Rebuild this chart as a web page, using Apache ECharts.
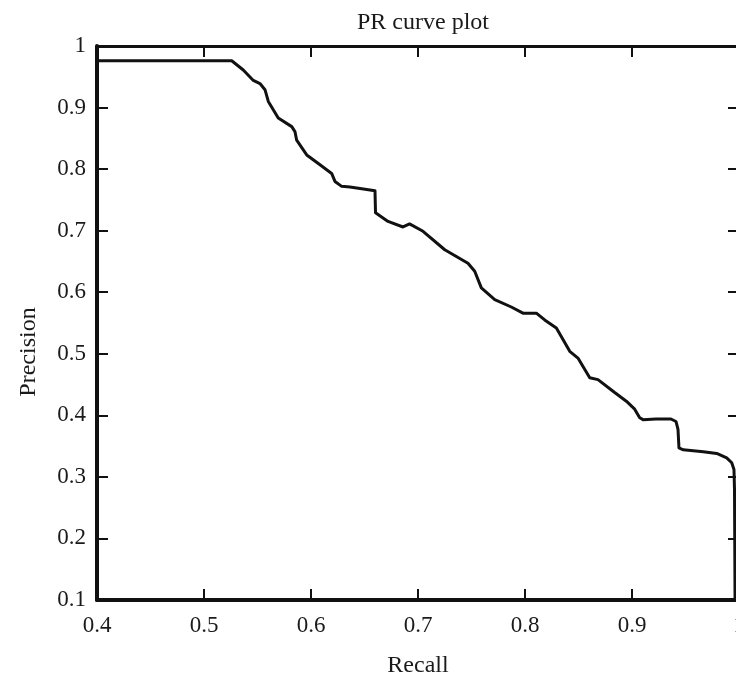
<!DOCTYPE html>
<html>
<head>
<meta charset="utf-8">
<script src="https://cdn.jsdelivr.net/npm/echarts@6/dist/echarts.min.js"></script>
<style>
html,body{margin:0;padding:0;background:#ffffff;}
#c{width:736px;height:680px;}
</style>
</head>
<body>
<div id="c"></div>
<script>
const titleText = 'PR curve plot';
const xName = 'Recall';
const yName = 'Precision';

const recall = [0.4000, 0.5259, 0.5367, 0.5461, 0.5523, 0.5570, 0.5601, 0.5694, 0.5820, 0.5850,
  0.5866, 0.5960, 0.6084, 0.6193, 0.6224, 0.6287, 0.6364, 0.6521, 0.6598, 0.6603,
  0.6720, 0.6860, 0.6921, 0.7047, 0.7250, 0.7467, 0.7530, 0.7592, 0.7717, 0.7872,
  0.7981, 0.8106, 0.8184, 0.8293, 0.8339, 0.8418, 0.8495, 0.8605, 0.8682, 0.8838,
  0.8947, 0.9025, 0.9072, 0.9103, 0.9224, 0.9364, 0.9411, 0.9430, 0.9439, 0.9479,
  0.9666, 0.9792, 0.9885, 0.9932, 0.9953, 0.9958, 0.9963];
const precision = [0.976, 0.976, 0.961, 0.944, 0.939, 0.929, 0.910, 0.883, 0.869, 0.861,
  0.847, 0.823, 0.807, 0.793, 0.780, 0.772, 0.771, 0.767, 0.765, 0.729,
  0.715, 0.706, 0.711, 0.699, 0.669, 0.647, 0.634, 0.607, 0.588, 0.576,
  0.566, 0.566, 0.555, 0.542, 0.528, 0.504, 0.493, 0.461, 0.458, 0.437,
  0.423, 0.410, 0.396, 0.393, 0.394, 0.394, 0.390, 0.377, 0.347, 0.344,
  0.341, 0.338, 0.331, 0.323, 0.312, 0.279, 0.100];

const xMin = 0.4, xMax = 1.0, xStep = 0.1;
const yMin = 0.1, yMax = 1.0, yStep = 0.1;

const ink = '#111111';
const serif = 'Liberation Serif';
const fmt = v => String(Math.round(v * 10) / 10);

function frameAxis(pos, width, showLabel) {
  return {
    type: 'value',
    position: pos,
    axisLine: { show: true, onZero: false, lineStyle: { color: ink, width: width } },
    axisTick: { show: true, inside: true, length: 11, lineStyle: { color: ink, width: 2 } },
    axisLabel: { show: showLabel, color: '#1a1a1a', fontFamily: serif, fontSize: 23, formatter: fmt },
    splitLine: { show: false }
  };
}

const xBottom = Object.assign(frameAxis('bottom', 4, true), {
  min: xMin, max: xMax, interval: xStep,
  name: xName, nameLocation: 'middle', nameGap: 54,
  nameTextStyle: { color: '#1a1a1a', fontFamily: serif, fontSize: 24 }
});
xBottom.axisLabel.margin = 14;
const xTop = Object.assign(frameAxis('top', 3, false), { min: xMin, max: xMax, interval: xStep });

const yLeft = Object.assign(frameAxis('left', 4, true), {
  min: yMin, max: yMax, interval: yStep,
  name: yName, nameLocation: 'middle', nameGap: 56,
  nameTextStyle: { color: '#1a1a1a', fontFamily: serif, fontSize: 24, padding: [0, 58, 0, 0] }
});
yLeft.axisLabel.margin = 11;
const yRight = Object.assign(frameAxis('right', 3, false), { min: yMin, max: yMax, interval: yStep });

const chart = echarts.init(document.getElementById('c'), null, { renderer: 'canvas' });
chart.setOption({
  backgroundColor: '#ffffff',
  animation: false,
  title: {
    text: titleText, left: 418, top: 6, textAlign: 'center',
    textStyle: { color: '#1a1a1a', fontFamily: serif, fontSize: 24, fontWeight: 'normal' }
  },
  grid: { left: 97, right: -3, top: 46, bottom: 80, containLabel: false, outerBoundsMode: 'none' },
  xAxis: [xBottom, xTop],
  yAxis: [yLeft, yRight],
  series: [{
    type: 'line',
    xAxisIndex: 0, yAxisIndex: 0,
    data: recall.map((r, i) => [r, precision[i]]),
    showSymbol: false,
    smooth: false,
    lineStyle: { color: ink, width: 3, join: 'round' }
  }]
});
</script>
</body>
</html>
